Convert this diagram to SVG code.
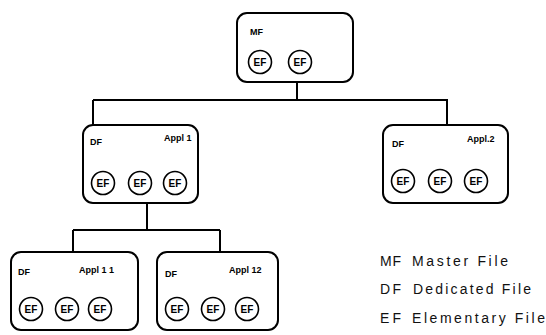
<svg xmlns="http://www.w3.org/2000/svg" width="546" height="335" viewBox="0 0 546 335">
<style>
.box{fill:#fff;stroke:#000;stroke-width:2}
.ef{fill:#fff;stroke:#000;stroke-width:1.6}
.eft{font-family:"Liberation Sans",Arial,sans-serif;font-size:10px;font-weight:bold;text-anchor:middle}
.lbl{font-family:"Liberation Sans",Arial,sans-serif;font-size:9px;font-weight:bold}
.leg{font-family:"Liberation Sans",Arial,sans-serif;font-size:14px;fill:#111}
.con{fill:none;stroke:#000;stroke-width:2}
</style>
<defs>
<g id="efc"><circle class="ef" r="11.5"/><text class="eft" y="3.5">EF</text></g>
</defs>
<g id="connectors">
<path class="con" d="M297 82V100M93 100H448M93 100V125M447 100V125M147 203V230M73 230H220M73 230V252M220 230V252"/>
</g>
<g id="mf">
<rect class="box" x="237" y="13" width="116" height="69" rx="10"/>
<text class="lbl" x="250" y="35">MF</text>
<use href="#efc" x="260" y="62"/><use href="#efc" x="300" y="62"/>
</g>
<g id="appl1">
<rect class="box" x="83" y="125" width="115" height="78" rx="10"/>
<text class="lbl" x="90" y="145">DF</text>
<text class="lbl" x="164" y="141">Appl 1</text>
<use href="#efc" x="103" y="183"/><use href="#efc" x="140" y="183"/><use href="#efc" x="175" y="183"/>
</g>
<g id="appl2">
<rect class="box" x="383" y="125" width="125" height="78" rx="10"/>
<text class="lbl" x="392" y="147">DF</text>
<text class="lbl" x="467" y="142">Appl.2</text>
<use href="#efc" x="403" y="181"/><use href="#efc" x="440" y="181"/><use href="#efc" x="476" y="181"/>
</g>
<g id="appl11">
<rect class="box" x="11" y="252" width="127" height="78" rx="10"/>
<text class="lbl" x="18" y="275">DF</text>
<text class="lbl" x="79" y="273">Appl 1 1</text>
<use href="#efc" x="31" y="309"/><use href="#efc" x="67" y="309"/><use href="#efc" x="100" y="309"/>
</g>
<g id="appl12">
<rect class="box" x="157" y="252" width="121" height="78" rx="10"/>
<text class="lbl" x="165" y="277">DF</text>
<text class="lbl" x="229" y="273">Appl 12</text>
<use href="#efc" x="177" y="309"/><use href="#efc" x="213" y="309"/><use href="#efc" x="247" y="309"/>
</g>
<g id="legend">
<text class="leg" x="380" y="266" textLength="21">MF</text><text class="leg" x="412" y="266" textLength="96">Master File</text>
<text class="leg" x="380" y="294" textLength="21">DF</text><text class="leg" x="413" y="294" textLength="118">Dedicated File</text>
<text class="leg" x="380" y="323" textLength="21">EF</text><text class="leg" x="412" y="323" textLength="133">Elementary File</text>
</g>
</svg>
